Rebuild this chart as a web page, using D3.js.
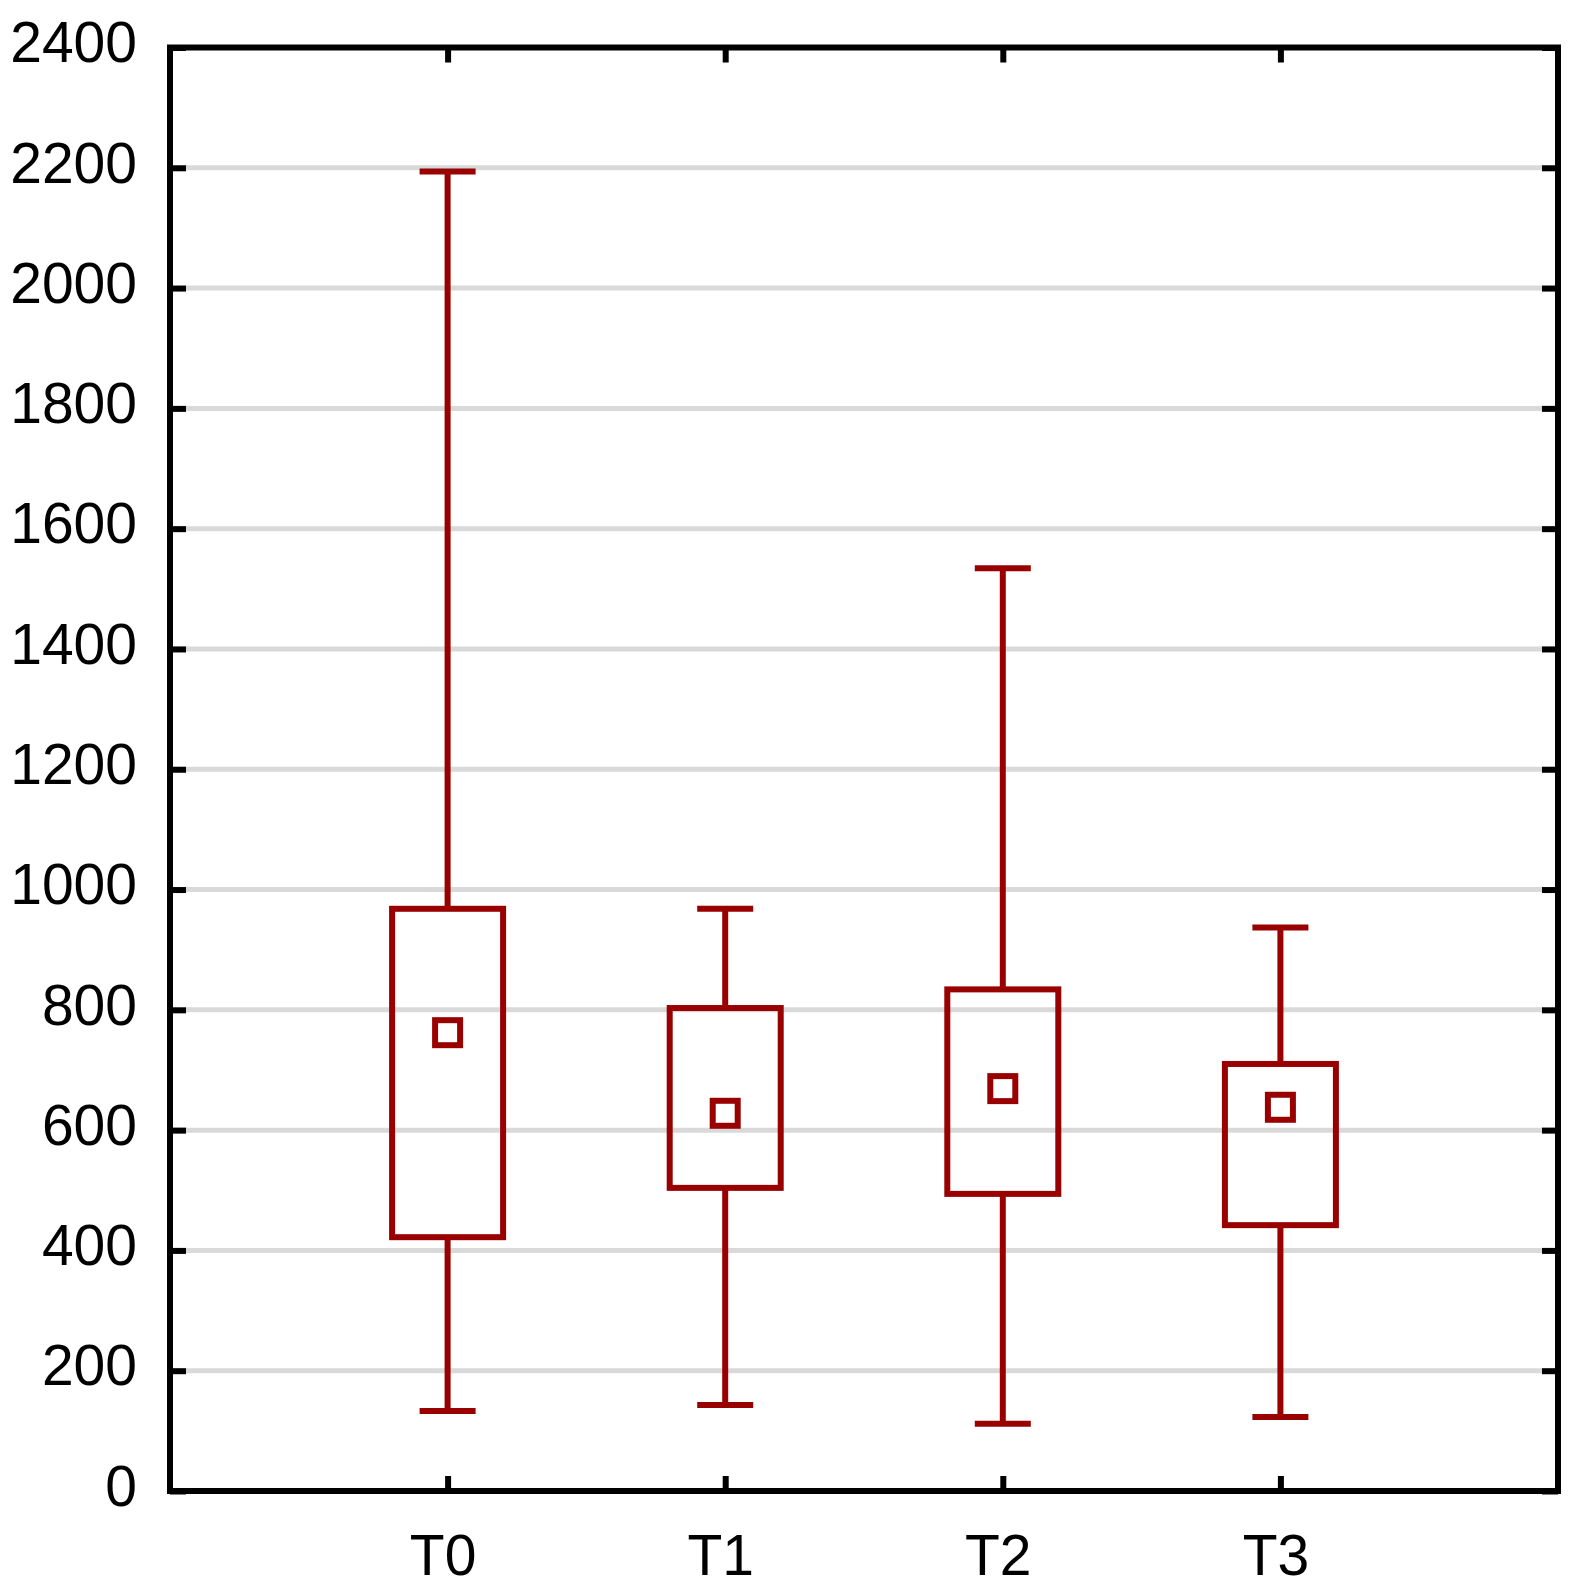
<!DOCTYPE html>
<html>
<head>
<meta charset="utf-8">
<script src="https://cdn.jsdelivr.net/npm/d3@7/dist/d3.min.js"></script>
<style>
    body { margin: 0; background: #ffffff; }
    svg { display: block; }
    .axis text { font-family: Arial, "Liberation Sans", sans-serif; font-size: 57px; fill: #000000; }
</style>
</head>
<body>
<div id="box-chart"></div>
<script>
// values
var categories = ["T0", "T1", "T2", "T3"];
var whiskerLow = [133, 143, 112, 123];
var boxLow = [422, 504, 494, 442];
var meanValues = [762, 628, 669, 638];
var boxHigh = [968, 803, 834, 710];
var whiskerHigh = [2194, 968, 1534, 937];
var yTicks = [0, 200, 400, 600, 800, 1000, 1200, 1400, 1600, 1800, 2000, 2200, 2400];

var svgWidth = 1579, svgHeight = 1591;
var margin = { top: 47.5, right: 21, bottom: 100, left: 170 };
var width = svgWidth - margin.left - margin.right;
var height = svgHeight - margin.top - margin.bottom;

var red = "#990000";
var lineW = 6;

var svg = d3.select("#box-chart").append("svg")
    .attr("width", svgWidth)
    .attr("height", svgHeight);

var g = svg.append("g").attr("transform", "translate(" + margin.left + "," + margin.top + ")");

var x = d3.scalePoint().domain(categories).range([0, width]).padding(1);
var y = d3.scaleLinear().domain([0, 2400]).range([height, 0]);

// gridlines
g.append("g")
    .selectAll("line")
    .data(yTicks.filter(function (d) { return d > 0 && d < 2400; }))
    .enter().append("line")
    .attr("x1", 0)
    .attr("x2", width)
    .attr("y1", function (d) { return y(d); })
    .attr("y2", function (d) { return y(d); })
    .attr("stroke", "#d9d9d9")
    .attr("stroke-width", 5);

// axes, ticks pointing inwards
function styleAxis(sel) {
    sel.select(".domain").remove();
    sel.selectAll(".tick line").attr("stroke", "#000").attr("stroke-width", lineW);
}

g.append("g")
    .attr("class", "axis")
    .call(d3.axisLeft(y).tickValues(yTicks).tickFormat(d3.format("d")).tickSize(-16).tickPadding(33))
    .call(styleAxis)
    .selectAll("text").attr("dy", "0.25em");

g.append("g")
    .attr("class", "axis")
    .attr("transform", "translate(" + width + ",0)")
    .call(d3.axisRight(y).tickValues(yTicks).tickSize(-16).tickFormat(""))
    .call(styleAxis);

g.append("g")
    .attr("class", "axis")
    .attr("transform", "translate(0," + height + ")")
    .call(d3.axisBottom(x).tickSize(-15).tickPadding(43.5))
    .call(styleAxis)
    .selectAll("text").attr("dx", "-5");

g.append("g")
    .attr("class", "axis")
    .call(d3.axisTop(x).tickSize(-15).tickFormat(""))
    .call(styleAxis);

// frame
g.append("rect")
    .attr("x", 0)
    .attr("y", 0)
    .attr("width", width)
    .attr("height", height)
    .attr("fill", "none")
    .attr("stroke", "#000")
    .attr("stroke-width", lineW);

// boxes
var boxW = 111, capW = 56, meanS = 25;
var items = g.append("g").selectAll("g")
    .data(categories)
    .enter().append("g");

// upper whisker
items.append("line")
    .attr("x1", function (d) { return x(d); })
    .attr("x2", function (d) { return x(d); })
    .attr("y1", function (d, i) { return y(boxHigh[i]); })
    .attr("y2", function (d, i) { return y(whiskerHigh[i]); })
    .attr("stroke", red).attr("stroke-width", lineW);

// lower whisker
items.append("line")
    .attr("x1", function (d) { return x(d); })
    .attr("x2", function (d) { return x(d); })
    .attr("y1", function (d, i) { return y(boxLow[i]); })
    .attr("y2", function (d, i) { return y(whiskerLow[i]); })
    .attr("stroke", red).attr("stroke-width", lineW);

// caps
items.append("line")
    .attr("x1", function (d) { return x(d) - capW / 2; })
    .attr("x2", function (d) { return x(d) + capW / 2; })
    .attr("y1", function (d, i) { return y(whiskerHigh[i]); })
    .attr("y2", function (d, i) { return y(whiskerHigh[i]); })
    .attr("stroke", red).attr("stroke-width", lineW);

items.append("line")
    .attr("x1", function (d) { return x(d) - capW / 2; })
    .attr("x2", function (d) { return x(d) + capW / 2; })
    .attr("y1", function (d, i) { return y(whiskerLow[i]); })
    .attr("y2", function (d, i) { return y(whiskerLow[i]); })
    .attr("stroke", red).attr("stroke-width", lineW);

items.append("rect")
    .attr("x", function (d) { return x(d) - boxW / 2; })
    .attr("y", function (d, i) { return y(boxHigh[i]); })
    .attr("width", boxW)
    .attr("height", function (d, i) { return y(boxLow[i]) - y(boxHigh[i]); })
    .attr("fill", "none")
    .attr("stroke", red).attr("stroke-width", lineW);

// mean
items.append("rect")
    .attr("x", function (d) { return x(d) - meanS / 2; })
    .attr("y", function (d, i) { return y(meanValues[i]) - meanS / 2; })
    .attr("width", meanS)
    .attr("height", meanS)
    .attr("fill", "none")
    .attr("stroke", red).attr("stroke-width", lineW);
</script>
</body>
</html>
